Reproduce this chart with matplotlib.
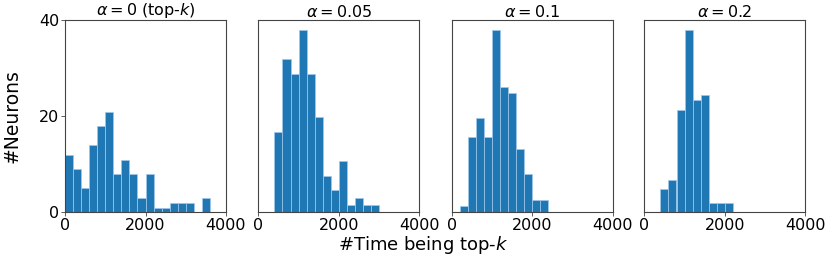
import numpy as np
import matplotlib
matplotlib.use("Agg")
import matplotlib.pyplot as plt

# Data (bar heights; bin width 200)
titles = [r'$\alpha=0$ (top-$k$)', r'$\alpha=0.05$', r'$\alpha=0.1$', r'$\alpha=0.2$']
bin_starts = [0, 400, 200, 400]
heights_a0 = [12, 9, 5, 14, 18, 21, 8, 11, 8, 3, 8, 1, 1, 2, 2, 2, 0, 3]
heights_a005 = [16.7, 31.9, 28.9, 38.0, 28.9, 19.8, 7.6, 4.6, 10.6, 1.5, 3.0, 1.5, 1.5]
heights_a01 = [1.3, 15.7, 19.6, 15.7, 38.0, 26.2, 24.8, 13.1, 7.9, 2.6, 2.6]
heights_a02 = [4.9, 6.8, 21.4, 38.0, 23.4, 24.4, 1.95, 1.95, 1.95]
bin_width = 200
all_heights = [heights_a0, heights_a005, heights_a01, heights_a02]
xticks = [0, 2000, 4000]
yticks = [0, 20, 40]

fig = plt.figure(figsize=(8.3, 2.61), dpi=100)
W, H = 830, 261
lefts = [65, 258.3, 451.7, 644.3]
axw, axb, axh = 161, 261 - 212.3, 192

for i, (t, start, hts) in enumerate(zip(titles, bin_starts, all_heights)):
    ax = fig.add_axes([lefts[i] / W, axb / H, axw / W, axh / H])
    edges = start + bin_width * np.arange(len(hts) + 1)
    centers = (edges[:-1] + edges[1:]) / 2
    ax.hist(centers, bins=edges, weights=hts, color='#1f77b4',
            edgecolor=(0.62, 0.78, 0.92, 0.9), linewidth=0.6)
    ax.set_xlim(0, 4000)
    ax.set_ylim(0, 40)
    ax.set_xticks(xticks)
    ax.set_title(t, fontsize=11.5, pad=2)
    ax.tick_params(labelsize=11.5, length=3, width=0.6, color='#444444', pad=1)
    for s in ax.spines.values():
        s.set_color('#444444')
        s.set_linewidth(0.8)
    ax.set_yticks(yticks)
    if i > 0:
        ax.tick_params(left=False, labelleft=False)

fig.text(423 / W, 1 - 245.5 / H, r'#Time being top-$k$', fontsize=13,
         ha='center', va='center')
fig.text(12 / W, 1 - 116 / H, '#Neurons', fontsize=13.5, rotation=90,
         ha='center', va='center')

fig.savefig('out.png', dpi=100)
